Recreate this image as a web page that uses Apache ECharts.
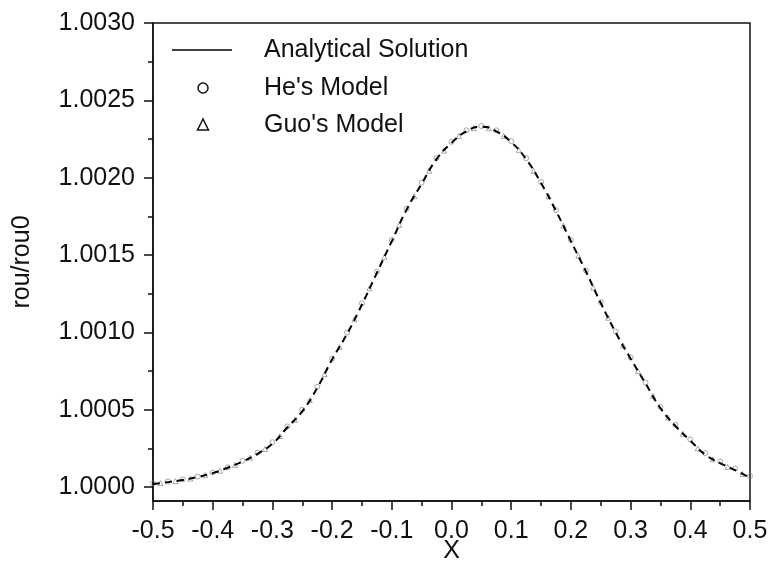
<!DOCTYPE html>
<html>
<head>
<meta charset="utf-8">
<script src="https://cdn.jsdelivr.net/npm/echarts@6/dist/echarts.min.js"></script>
<style>html,body{margin:0;padding:0;background:#fff}#c{width:771px;height:578px}</style>
</head>
<body>
<div id="c"></div>
<script>
// ---- data ----
const xLine = [-0.5,-0.475,-0.45,-0.425,-0.4,-0.375,-0.35,-0.325,-0.3,-0.275,-0.25,-0.225,-0.2,-0.175,-0.15,-0.125,-0.1,-0.075,-0.05,-0.025,0,0.025,0.05,0.075,0.1,0.125,0.15,0.175,0.2,0.225,0.25,0.275,0.3,0.325,0.35,0.375,0.4,0.425,0.45,0.475,0.5];
const analytical = [1.000020,1.000032,1.000046,1.000065,1.000090,1.000125,1.000165,1.000215,1.000280,1.000385,1.000490,1.000640,1.000825,1.000990,1.001180,1.001385,1.001590,1.001795,1.001960,1.002120,1.002225,1.002300,1.002330,1.002300,1.002230,1.002120,1.001965,1.001785,1.001590,1.001395,1.001190,1.001000,1.000830,1.000670,1.000510,1.000395,1.000300,1.000210,1.000155,1.000110,1.000060];
const heModel = [1.000024,1.000036,1.000050,1.000068,1.000094,1.000128,1.000170,1.000222,1.000290,1.000392,1.000500,1.000648,1.000830,1.000998,1.001188,1.001392,1.001598,1.001800,1.001968,1.002126,1.002232,1.002306,1.002334,1.002306,1.002236,1.002126,1.001972,1.001790,1.001598,1.001400,1.001196,1.001006,1.000838,1.000676,1.000518,1.000402,1.000308,1.000220,1.000165,1.000120,1.000070];
const xGuo = [-0.4875,-0.4625,-0.4375,-0.4125,-0.3875,-0.3625,-0.3375,-0.3125,-0.2875,-0.2625,-0.2375,-0.2125,-0.1875,-0.1625,-0.1375,-0.1125,-0.0875,-0.0625,-0.0375,-0.0125,0.0125,0.0375,0.0625,0.0875,0.1125,0.1375,0.1625,0.1875,0.2125,0.2375,0.2625,0.2875,0.3125,0.3375,0.3625,0.3875,0.4125,0.4375,0.4625,0.4875];
const guoModel = [1.000026,1.000039,1.000055,1.000077,1.000106,1.000144,1.000190,1.000246,1.000330,1.000435,1.000562,1.000730,1.000905,1.001085,1.001285,1.001488,1.001695,1.001880,1.002045,1.002175,1.002270,1.002320,1.002320,1.002270,1.002180,1.002045,1.001880,1.001690,1.001495,1.001290,1.001095,1.000915,1.000750,1.000590,1.000450,1.000345,1.000250,1.000180,1.000130,1.000085];
const yMajorTicks = [1.0000,1.0005,1.0010,1.0015,1.0020,1.0025,1.0030];
const yMinorTicks = [1.00025,1.00075,1.00125,1.00175,1.00225,1.00275];
const legendNames = ['Analytical Solution',"He's Model","Guo's Model"];
const xTitle = 'X';
const yTitle = 'rou/rou0';

const zip = (xs, ys) => xs.map((x, i) => [x, ys[i]]);
const FONT = 'Liberation Sans, Arial, sans-serif';
const FS = 25;
const chart = echarts.init(document.getElementById('c'), null, {renderer: 'canvas'});
chart.setOption({
  animation: false,
  backgroundColor: '#fff',
  grid: {left: 153, top: 23, width: 597, height: 478, show: true, borderColor: '#111', borderWidth: 1.5, backgroundColor: 'transparent'},
  xAxis: {
    type: 'value', min: -0.5, max: 0.5, interval: 0.1,
    name: xTitle, nameLocation: 'middle', nameGap: 38, nameMoveOverlap: false,
    nameTextStyle: {fontFamily: FONT, fontSize: FS, color: '#111'},
    axisLine: {show: true, onZero: false, lineStyle: {color: '#111', width: 1.5}},
    axisTick: {show: true, length: 9, lineStyle: {color: '#111', width: 1.5}},
    minorTick: {show: true, splitNumber: 2, length: 5, lineStyle: {color: '#111', width: 1.5}},
    splitLine: {show: false},
    axisLabel: {margin: 18, fontFamily: FONT, fontSize: FS, color: '#111', formatter: v => v.toFixed(1)}
  },
  yAxis: [{
    type: 'value', min: 0.99991, max: 1.003,
    name: yTitle, nameLocation: 'middle', nameGap: 118, nameRotate: 90, nameMoveOverlap: false,
    nameTextStyle: {fontFamily: FONT, fontSize: FS, color: '#111'},
    axisLine: {show: true, onZero: false, lineStyle: {color: '#111', width: 1.5}},
    axisTick: {show: true, length: 9, customValues: yMajorTicks, lineStyle: {color: '#111', width: 1.5}},
    splitLine: {show: false},
    axisLabel: {margin: 18, fontFamily: FONT, fontSize: FS, color: '#111', customValues: yMajorTicks, formatter: v => v.toFixed(4)}
  }, {
    type: 'value', min: 0.99991, max: 1.003, position: 'left',
    axisLine: {show: false, onZero: false},
    axisTick: {show: true, length: 5, customValues: yMinorTicks, lineStyle: {color: '#111', width: 1.5}},
    axisLabel: {show: false},
    splitLine: {show: false}
  }],
  series: [{
    name: legendNames[0], type: 'line', data: zip(xLine, analytical), smooth: true,
    showSymbol: false, lineStyle: {color: '#000', width: 2, type: [7, 5]}, z: 3
  }, {
    name: legendNames[1], type: 'scatter', data: zip(xLine, heModel), symbol: 'circle', symbolSize: 5,
    itemStyle: {color: 'transparent', borderColor: '#777', borderWidth: 0.8}
  }, {
    name: legendNames[2], type: 'scatter', data: zip(xGuo, guoModel), symbol: 'triangle', symbolSize: 5,
    itemStyle: {color: 'transparent', borderColor: '#777', borderWidth: 0.8}
  }],
  graphic: [
    {type: 'line', shape: {x1: 172, y1: 50, x2: 232, y2: 50}, style: {stroke: '#000', lineWidth: 1.5}},
    {type: 'circle', shape: {cx: 203, cy: 88, r: 5}, style: {stroke: '#111', fill: 'none', lineWidth: 1.5}},
    {type: 'polygon', shape: {points: [[203, 119], [197.5, 130], [208.5, 130]]}, style: {stroke: '#111', fill: 'none', lineWidth: 1.5}},
    {type: 'text', x: 264, y: 50, style: {text: legendNames[0], font: FS + 'px ' + FONT, fill: '#111', verticalAlign: 'middle'}},
    {type: 'text', x: 264, y: 88, style: {text: legendNames[1], font: FS + 'px ' + FONT, fill: '#111', verticalAlign: 'middle'}},
    {type: 'text', x: 264, y: 125, style: {text: legendNames[2], font: FS + 'px ' + FONT, fill: '#111', verticalAlign: 'middle'}}
  ]
});
</script>
</body>
</html>
